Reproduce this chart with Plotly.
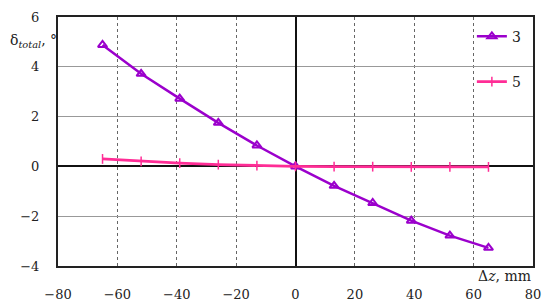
import plotly.graph_objects as go

# data
dz = [-65, -52, -39, -26, -13, 0, 13, 26, 39, 52, 65]
delta_3 = [4.88, 3.72, 2.72, 1.75, 0.84, 0.0, -0.78, -1.47, -2.18, -2.78, -3.27]
delta_5 = [0.30, 0.20, 0.13, 0.07, 0.03, 0.0, -0.01, -0.01, -0.02, -0.02, -0.02]

x_ticks = [-80, -60, -40, -20, 0, 20, 40, 60, 80]
y_ticks = [-4, -2, 0, 2, 4, 6]

FONT = "DejaVu Serif"

fig = go.Figure()
fig.add_trace(go.Scatter(
    x=dz, y=delta_3, name="3", legendgroup="a",
    mode="lines+markers",
    line=dict(color="#9b00cc", width=2.5),
    marker=dict(symbol="triangle-up-open", size=8, color="#9b00cc",
                line=dict(width=2)),
))
fig.add_trace(go.Scatter(
    x=dz, y=delta_5, name="5", legendgroup="b",
    mode="lines+markers",
    line=dict(color="#ff2d96", width=2.8),
    marker=dict(symbol="line-ns-open", size=7, color="#ff2d96",
                line=dict(width=1.5, color="#ff2d96")),
))

# page body has an 8px margin, so the figure is a bit smaller than the window
fig.update_layout(
    width=542, height=298,
    margin=dict(l=50, r=17, t=9, b=40, autoexpand=False),
    plot_bgcolor="white", paper_bgcolor="white",
    font=dict(family=FONT, size=13, color="#222"),
    showlegend=True,
    legend=dict(x=0.985, xanchor="right", y=0.985, yanchor="top",
                bgcolor="rgba(0,0,0,0)", font=dict(family=FONT, size=14),
                tracegroupgap=24, itemwidth=30),
    xaxis=dict(range=[-80, 80], tickvals=x_ticks, automargin=False,
               ticktext=[str(v).replace("-", "\u2212") for v in x_ticks],
               tickfont=dict(family=FONT, size=13),
               showgrid=True, gridcolor="#666", griddash="dot", gridwidth=1,
               zeroline=True, zerolinecolor="#111", zerolinewidth=1.5,
               showline=True, linecolor="#222", linewidth=2, mirror=True,
               ticks="", ticklabelstandoff=15),
    yaxis=dict(range=[-4, 6], tickvals=y_ticks, automargin=False,
               ticktext=[str(v).replace("-", "\u2212") for v in y_ticks],
               tickfont=dict(family=FONT, size=13),
               showgrid=True, gridcolor="#999", gridwidth=1,
               zeroline=True, zerolinecolor="#111", zerolinewidth=2,
               showline=True, linecolor="#222", linewidth=2, mirror=True,
               ticks="", ticklabelstandoff=14),
    annotations=[
        dict(text="\u03b4<sub><i>total</i></sub>, \u00b0", xref="paper", yref="paper",
             x=-0.105, y=0.905, xanchor="left", yanchor="middle", showarrow=False,
             font=dict(family=FONT, size=14)),
        dict(text="\u0394<i>z</i>, mm", xref="paper", yref="paper",
             x=1.0, y=0.0, xanchor="right", yanchor="top", showarrow=False,
             font=dict(family=FONT, size=14)),
    ],
)

fig.write_html("out.html")
